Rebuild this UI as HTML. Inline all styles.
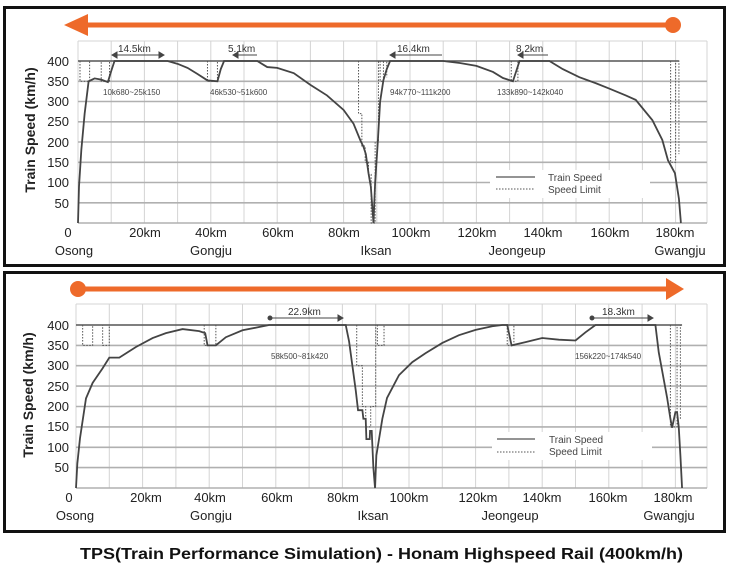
<!DOCTYPE html>
<html><head><meta charset="utf-8"><style>
html,body{margin:0;padding:0;background:#fff;}
svg{display:block;}
text{font-family:"Liberation Sans",sans-serif;}
.ns{vector-effect:non-scaling-stroke;fill:none;}
</style></head><body>
<svg width="729" height="576" viewBox="0 0 729 576" xmlns="http://www.w3.org/2000/svg">
<rect width="729" height="576" fill="#fff"/>
<!-- boxes -->
<rect x="4.5" y="7.5" width="720" height="258" fill="none" stroke="#111" stroke-width="3"/>
<rect x="4.5" y="272.5" width="720" height="259" fill="none" stroke="#111" stroke-width="3"/>

<!-- ===== TOP CHART ===== -->
<g stroke="#d4d4d4" stroke-width="1">
<line x1="78" y1="41" x2="78" y2="223"/><line x1="111.2" y1="41" x2="111.2" y2="223"/><line x1="144.4" y1="41" x2="144.4" y2="223"/><line x1="177.6" y1="41" x2="177.6" y2="223"/><line x1="210.8" y1="41" x2="210.8" y2="223"/><line x1="244" y1="41" x2="244" y2="223"/><line x1="277.2" y1="41" x2="277.2" y2="223"/><line x1="310.4" y1="41" x2="310.4" y2="223"/><line x1="343.6" y1="41" x2="343.6" y2="223"/><line x1="376.8" y1="41" x2="376.8" y2="223"/><line x1="410" y1="41" x2="410" y2="223"/><line x1="443.2" y1="41" x2="443.2" y2="223"/><line x1="476.4" y1="41" x2="476.4" y2="223"/><line x1="509.6" y1="41" x2="509.6" y2="223"/><line x1="542.8" y1="41" x2="542.8" y2="223"/><line x1="576" y1="41" x2="576" y2="223"/><line x1="609.2" y1="41" x2="609.2" y2="223"/><line x1="642.4" y1="41" x2="642.4" y2="223"/><line x1="675.6" y1="41" x2="675.6" y2="223"/><line x1="707" y1="41" x2="707" y2="223"/>
<line x1="78" y1="41" x2="707" y2="41"/>
</g>
<g stroke="#b0b0b0" stroke-width="1.6">
<line x1="78" y1="81.3" x2="707" y2="81.3"/><line x1="78" y1="101.5" x2="707" y2="101.5"/><line x1="78" y1="121.8" x2="707" y2="121.8"/><line x1="78" y1="142" x2="707" y2="142"/><line x1="78" y1="162.3" x2="707" y2="162.3"/><line x1="78" y1="182.5" x2="707" y2="182.5"/><line x1="78" y1="202.8" x2="707" y2="202.8"/><line x1="78" y1="223" x2="707" y2="223"/>
</g>
<rect x="490" y="170" width="160" height="28" fill="#fff"/>
<g transform="translate(78,223) scale(3.32,-0.405)">
<polyline class="ns" stroke="#555" stroke-width="1.5" points="0,400 181,400"/>
<polyline class="ns" stroke="#555" stroke-width="1" stroke-dasharray="1.5,1.5" points="0.6,400 0.6,350 3.5,350 3.5,400 7,400 7,350 9.5,350 9.5,400 M0,0"/>
<polyline class="ns" stroke="#555" stroke-width="1" stroke-dasharray="1.5,1.5" points="39,400 39,350 42,350 42,400"/>
<polyline class="ns" stroke="#555" stroke-width="1" stroke-dasharray="1.5,1.5" points="84.5,400 84.5,270 85.5,270 85.5,190 86.5,190 86.5,150 87.5,150 87.5,120 88.3,120 88.3,0 89.5,0 89.5,200 90.5,200 90.5,400"/>
<polyline class="ns" stroke="#555" stroke-width="1" stroke-dasharray="1.5,1.5" points="91,400 91,350 92,350 92,400 93,400 93,360"/>
<polyline class="ns" stroke="#555" stroke-width="1" stroke-dasharray="1.5,1.5" points="130.5,400 130.5,350 132.5,350 132.5,400"/>
<polyline class="ns" stroke="#555" stroke-width="1" stroke-dasharray="1.5,1.5" points="178.5,400 178.5,150 180,150 180,400 181,400 181,170"/>
<polyline class="ns" stroke="#444" stroke-width="1.8" points="0,0 0.3,90 1,180 2,270 3.2,350 5,357 7,354 9,348 10,375 11,400 27,400 30,393 33,383 36,368 39,352 42,350 43,380 44,400 54,400 56,390 57,385 60,383 65,370 70,341 75,315 80,279 83,245 85,205 86,188 86.7,170 87.5,123 88.2,90 89,0 89.5,100 90.3,200 91,300 92,353 93,380 94,400 110,400 115,395 120,388 125,373 128,358 131,350 132,375 133,400 142,400 146,380 151,360 156,345 160,332 165,315 168,304 173,254 176,205 177.7,155 179.8,123 181,60 181.6,0"/>
</g>
<!-- top annotations -->
<g fill="#444" stroke="#444" stroke-width="1">
<line x1="112" y1="55" x2="164" y2="55"/><path d="M112,55 l5,-3 v6z"/><path d="M164,55 l-5,-3 v6z"/>
<line x1="233" y1="55" x2="257" y2="55"/><path d="M233,55 l5,-3 v6z"/>
<line x1="390" y1="55" x2="442" y2="55"/><path d="M390,55 l5,-3 v6z"/>
<line x1="518" y1="55" x2="548" y2="55"/><path d="M518,55 l5,-3 v6z"/>
</g>
<g font-size="10" fill="#333">
<text x="118" y="52">14.5km</text><text x="228" y="52">5.1km</text><text x="397" y="52">16.4km</text><text x="516" y="52">8.2km</text>
</g>
<g font-size="8" fill="#444">
<text x="103" y="95">10k680~25k150</text><text x="210" y="95">46k530~51k600</text><text x="390" y="95">94k770~111k200</text><text x="497" y="95">133k890~142k040</text>
</g>
<line x1="496" y1="177" x2="535" y2="177" stroke="#555" stroke-width="1.2"/>
<line x1="496" y1="189" x2="535" y2="189" stroke="#555" stroke-width="1" stroke-dasharray="1.5,1.5"/>
<text x="548" y="181" font-size="10" fill="#444">Train Speed</text>
<text x="548" y="193" font-size="10" fill="#444">Speed Limit</text>
<g font-size="13" fill="#222" text-anchor="end">
<text x="69" y="66">400</text><text x="69" y="86">350</text><text x="69" y="106">300</text><text x="69" y="126">250</text><text x="69" y="147">200</text><text x="69" y="167">150</text><text x="69" y="187">100</text><text x="69" y="208">50</text>
</g>
<g font-size="13" fill="#222" text-anchor="middle">
<text x="68" y="237">0</text><text x="145" y="237">20km</text><text x="211" y="237">40km</text><text x="278" y="237">60km</text><text x="344" y="237">80km</text><text x="411" y="237">100km</text><text x="477" y="237">120km</text><text x="543" y="237">140km</text><text x="610" y="237">160km</text><text x="675" y="237">180km</text>
<text x="74" y="255">Osong</text><text x="211" y="255">Gongju</text><text x="376" y="255">Iksan</text><text x="517" y="255">Jeongeup</text><text x="680" y="255">Gwangju</text>
</g>
<text transform="translate(35,130) rotate(-90)" font-size="14" font-weight="bold" fill="#222" text-anchor="middle">Train Speed (km/h)</text>
<!-- top arrow -->
<line x1="84" y1="25" x2="672" y2="25" stroke="#ee6a2a" stroke-width="5"/>
<path d="M64,25 L88,14 L88,36 Z" fill="#ee6a2a"/>
<circle cx="673" cy="25" r="8" fill="#ee6a2a"/>

<!-- ===== BOTTOM CHART ===== -->
<g stroke="#d4d4d4" stroke-width="1">
<line x1="76" y1="304" x2="76" y2="488"/><line x1="109.3" y1="304" x2="109.3" y2="488"/><line x1="142.6" y1="304" x2="142.6" y2="488"/><line x1="175.9" y1="304" x2="175.9" y2="488"/><line x1="209.2" y1="304" x2="209.2" y2="488"/><line x1="242.5" y1="304" x2="242.5" y2="488"/><line x1="275.8" y1="304" x2="275.8" y2="488"/><line x1="309.1" y1="304" x2="309.1" y2="488"/><line x1="342.4" y1="304" x2="342.4" y2="488"/><line x1="375.7" y1="304" x2="375.7" y2="488"/><line x1="409" y1="304" x2="409" y2="488"/><line x1="442.3" y1="304" x2="442.3" y2="488"/><line x1="475.6" y1="304" x2="475.6" y2="488"/><line x1="508.9" y1="304" x2="508.9" y2="488"/><line x1="542.2" y1="304" x2="542.2" y2="488"/><line x1="575.5" y1="304" x2="575.5" y2="488"/><line x1="608.8" y1="304" x2="608.8" y2="488"/><line x1="642.1" y1="304" x2="642.1" y2="488"/><line x1="675.4" y1="304" x2="675.4" y2="488"/><line x1="707" y1="304" x2="707" y2="488"/>
<line x1="76" y1="304" x2="707" y2="304"/>
</g>
<g stroke="#b0b0b0" stroke-width="1.6">
<line x1="76" y1="345.4" x2="707" y2="345.4"/><line x1="76" y1="365.7" x2="707" y2="365.7"/><line x1="76" y1="386.1" x2="707" y2="386.1"/><line x1="76" y1="406.5" x2="707" y2="406.5"/><line x1="76" y1="426.9" x2="707" y2="426.9"/><line x1="76" y1="447.3" x2="707" y2="447.3"/><line x1="76" y1="467.6" x2="707" y2="467.6"/><line x1="76" y1="488" x2="707" y2="488"/>
</g>
<rect x="492" y="432" width="160" height="28" fill="#fff"/>
<g transform="translate(76,488) scale(3.33,-0.4075)">
<polyline class="ns" stroke="#555" stroke-width="1.5" points="0,400 182,400"/>
<polyline class="ns" stroke="#555" stroke-width="1" stroke-dasharray="1.5,1.5" points="2,400 2,350 5,350 5,400 8,400 8,350 10,350 10,400"/>
<polyline class="ns" stroke="#555" stroke-width="1" stroke-dasharray="1.5,1.5" points="38.5,400 38.5,350 42,350 42,400"/>
<polyline class="ns" stroke="#555" stroke-width="1" stroke-dasharray="1.5,1.5" points="84.3,400 84.3,300 86,300 86,200 87,200 87,150 88.5,150 88.5,200 90,200 90,400"/>
<polyline class="ns" stroke="#555" stroke-width="1" stroke-dasharray="1.5,1.5" points="90.5,400 90.5,350 92.5,350 92.5,400"/>
<polyline class="ns" stroke="#555" stroke-width="1" stroke-dasharray="1.5,1.5" points="129.5,400 129.5,350 131.5,350 131.5,400"/>
<polyline class="ns" stroke="#555" stroke-width="1" stroke-dasharray="1.5,1.5" points="178.5,400 178.5,150 180.5,150 180.5,400 181.5,400 181.5,170"/>
<polyline class="ns" stroke="#444" stroke-width="1.8" points="0,0 0.4,60 1.2,122 3,220 5,258 8,294 10,320 13,320 18,346 23,368 27,380 32,390 37,385 38.8,380 39.5,350 42,350 45,370 50,387 55,395 58,400 81,400 82,360 83,300 84,240 84.7,191 86,191 86.3,170 87,170 87.2,120 88.2,120 88.3,140 88.8,140 89.3,50 89.8,0 90.2,80 90.7,105 92,170 93.4,221 97,277 101,309 105,331 110,356 115,375 120,388 125,397 128,400 129.5,400 130.8,350 135,358 140,368 145,364 150,362 153,382 156,400 174,400 175,333 177.5,222 178.5,170 179,148 180,186 180.5,186 181,150 181.5,80 182,0"/>
</g>
<g fill="#444" stroke="#444" stroke-width="1">
<line x1="270" y1="318" x2="343" y2="318"/><circle cx="270" cy="318" r="2"/><path d="M343,318 l-5,-3 v6z"/>
<line x1="592" y1="318" x2="653" y2="318"/><circle cx="592" cy="318" r="2"/><path d="M653,318 l-5,-3 v6z"/>
</g>
<g font-size="10" fill="#333">
<text x="288" y="315">22.9km</text><text x="602" y="315">18.3km</text>
</g>
<g font-size="8" fill="#444">
<text x="271" y="359">58k500~81k420</text><text x="575" y="359">156k220~174k540</text>
</g>
<line x1="497" y1="439" x2="535" y2="439" stroke="#555" stroke-width="1.2"/>
<line x1="497" y1="452" x2="535" y2="452" stroke="#555" stroke-width="1" stroke-dasharray="1.5,1.5"/>
<text x="549" y="443" font-size="10" fill="#444">Train Speed</text>
<text x="549" y="455" font-size="10" fill="#444">Speed Limit</text>
<g font-size="13" fill="#222" text-anchor="end">
<text x="69" y="330">400</text><text x="69" y="350">350</text><text x="69" y="370">300</text><text x="69" y="391">250</text><text x="69" y="411">200</text><text x="69" y="431">150</text><text x="69" y="452">100</text><text x="69" y="472">50</text>
</g>
<g font-size="13" fill="#222" text-anchor="middle">
<text x="69" y="502">0</text><text x="146" y="502">20km</text><text x="210" y="502">40km</text><text x="277" y="502">60km</text><text x="343" y="502">80km</text><text x="409" y="502">100km</text><text x="478" y="502">120km</text><text x="542" y="502">140km</text><text x="608" y="502">160km</text><text x="673" y="502">180km</text>
<text x="75" y="520">Osong</text><text x="211" y="520">Gongju</text><text x="373" y="520">Iksan</text><text x="510" y="520">Jeongeup</text><text x="669" y="520">Gwangju</text>
</g>
<text transform="translate(33,395) rotate(-90)" font-size="14" font-weight="bold" fill="#222" text-anchor="middle">Train Speed (km/h)</text>
<line x1="78" y1="289" x2="668" y2="289" stroke="#ee6a2a" stroke-width="5"/>
<circle cx="78" cy="289" r="8" fill="#ee6a2a"/>
<path d="M684,289 L666,278 L666,300 Z" fill="#ee6a2a"/>

<text x="80" y="559" font-size="16" font-weight="bold" fill="#111" textLength="603" lengthAdjust="spacingAndGlyphs">TPS(Train Performance Simulation) - Honam Highspeed Rail (400km/h)</text>
</svg>
</body></html>
